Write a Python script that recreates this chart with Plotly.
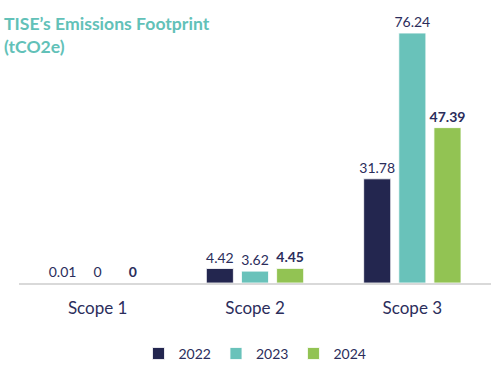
import plotly.graph_objects as go

categories = ["Scope 1", "Scope 2", "Scope 3"]
years = ["2022", "2023", "2024"]
values_2022 = [0.01, 4.42, 31.78]
values_2023 = [0, 3.62, 76.24]
values_2024 = [0, 4.45, 47.39]
labels_2022 = ["0.01", "4.42", "31.78"]
labels_2023 = ["0", "3.62", "76.24"]
labels_2024 = ["0", "4.45", "47.39"]

colors = ["#23264F", "#69C2BA", "#92C353"]
navy = "#2B2D5B"
font_family = "Lato, 'Open Sans', sans-serif"

fig = go.Figure()
series = [(values_2022, labels_2022, False), (values_2023, labels_2023, False), (values_2024, labels_2024, True)]
for (vals, labs, bold), yr, col in zip(series, years, colors):
    fig.add_trace(go.Bar(
        x=categories, y=vals, name=yr,
        marker=dict(color=col, line=dict(color="white", width=0.8)),
        text=labs, textposition="outside", cliponaxis=False, constraintext="none",
        textfont=dict(color=navy, size=14, family=font_family, weight="bold" if bold else "normal"),
    ))

fig.add_annotation(
    text="<b>TISE’s Emissions Footprint<br>(tCO2e)</b>",
    xref="paper", yref="paper", x=-0.036, y=0.977, xanchor="left", yanchor="top",
    align="left", showarrow=False,
    font=dict(size=17.6, color="#62C1B8", family=font_family),
)

fig.update_layout(
    width=500, height=388,
    margin=dict(l=19, r=9, t=5, b=105, autoexpand=False),
    paper_bgcolor="white", plot_bgcolor="white",
    barmode="group", bargap=0.33, bargroupgap=0.23,
    font=dict(family=font_family, color=navy),
    xaxis=dict(showline=True, linecolor="#D9D9D9", linewidth=1.5, showgrid=False,
               tickfont=dict(size=17, color=navy), ticks="", ticklabelstandoff=9,
               automargin=False),
    yaxis=dict(visible=False, range=[0, 84.8], automargin=False),
    legend=dict(orientation="h", x=0.5, xanchor="center", y=-0.255, yanchor="middle",
                font=dict(size=14, color=navy), itemwidth=30, traceorder="normal"),
)

fig.write_html("out.html", post_script="document.body.style.margin='0';",
               config={"displayModeBar": False})
